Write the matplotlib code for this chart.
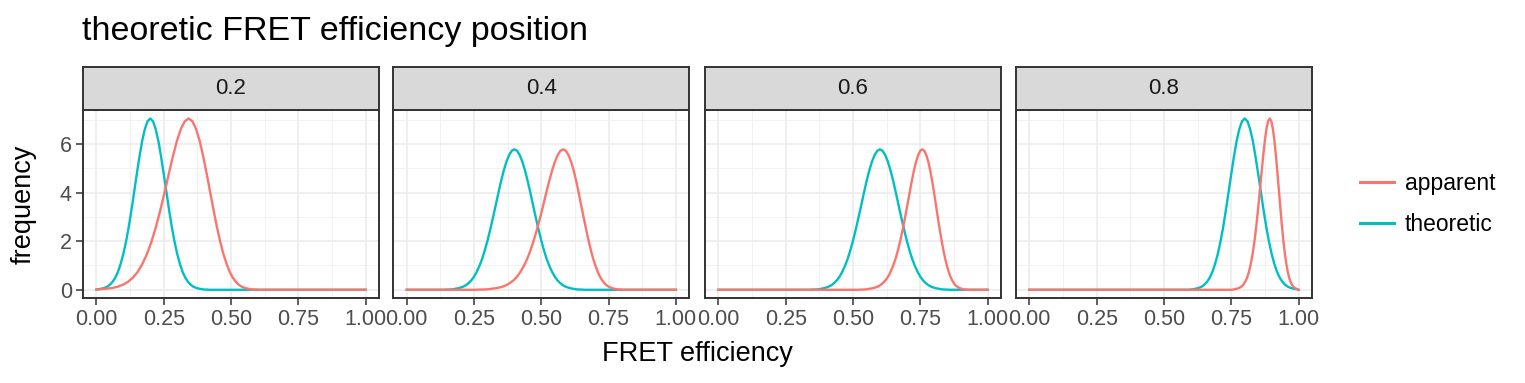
import matplotlib
matplotlib.use('Agg')
import matplotlib.pyplot as plt
from matplotlib.lines import Line2D

plt.rcParams['font.family'] = ['Liberation Sans', 'DejaVu Sans']

panel_labels = ['0.2', '0.4', '0.6', '0.8']
series_labels = ['apparent', 'theoretic']

theoretic_x = [0.00, 0.01, 0.02, 0.03, 0.04, 0.05, 0.06, 0.07, 0.08, 0.09,
               0.10, 0.11, 0.12, 0.13, 0.14, 0.15, 0.16, 0.17, 0.18, 0.19,
               0.20, 0.21, 0.22, 0.23, 0.24, 0.25, 0.26, 0.27, 0.28, 0.29,
               0.30, 0.31, 0.32, 0.33, 0.34, 0.35, 0.36, 0.37, 0.38, 0.39,
               0.40, 0.41, 0.42, 0.43, 0.44, 0.45, 0.46, 0.47, 0.48, 0.49,
               0.50, 0.51, 0.52, 0.53, 0.54, 0.55, 0.56, 0.57, 0.58, 0.59,
               0.60, 0.61, 0.62, 0.63, 0.64, 0.65, 0.66, 0.67, 0.68, 0.69,
               0.70, 0.71, 0.72, 0.73, 0.74, 0.75, 0.76, 0.77, 0.78, 0.79,
               0.80, 0.81, 0.82, 0.83, 0.84, 0.85, 0.86, 0.87, 0.88, 0.89,
               0.90, 0.91, 0.92, 0.93, 0.94, 0.95, 0.96, 0.97, 0.98, 0.99,
               1.00]

# same points as theoretic_x, at their apparent position
apparent_x = [0.0000, 0.0206, 0.0408, 0.0605, 0.0799, 0.0988, 0.1174, 0.1356, 0.1534, 0.1708,
              0.1880, 0.2048, 0.2212, 0.2374, 0.2533, 0.2688, 0.2841, 0.2991, 0.3138, 0.3283,
              0.3425, 0.3564, 0.3701, 0.3836, 0.3968, 0.4098, 0.4226, 0.4352, 0.4476, 0.4597,
              0.4717, 0.4835, 0.4951, 0.5065, 0.5177, 0.5287, 0.5396, 0.5503, 0.5608, 0.5712,
              0.5814, 0.5915, 0.6014, 0.6111, 0.6208, 0.6303, 0.6396, 0.6488, 0.6579, 0.6669,
              0.6757, 0.6844, 0.6930, 0.7014, 0.7098, 0.7180, 0.7261, 0.7342, 0.7421, 0.7499,
              0.7576, 0.7652, 0.7727, 0.7801, 0.7874, 0.7946, 0.8018, 0.8088, 0.8157, 0.8226,
              0.8294, 0.8361, 0.8427, 0.8492, 0.8557, 0.8621, 0.8684, 0.8746, 0.8808, 0.8868,
              0.8929, 0.8988, 0.9047, 0.9105, 0.9162, 0.9219, 0.9275, 0.9331, 0.9386, 0.9440,
              0.9494, 0.9547, 0.9599, 0.9651, 0.9703, 0.9754, 0.9804, 0.9854, 0.9903, 0.9952,
              1.0000]

freq_02 = [0.01, 0.03, 0.05, 0.08, 0.13, 0.21, 0.33, 0.50, 0.74, 1.07,
           1.48, 1.99, 2.59, 3.28, 4.02, 4.77, 5.49, 6.13, 6.62, 6.94,
           7.05, 6.94, 6.62, 6.13, 5.49, 4.77, 4.02, 3.28, 2.59, 1.99,
           1.48, 1.07, 0.74, 0.50, 0.33, 0.21, 0.13, 0.08, 0.05, 0.03,
           0.01, 0.01, 0, 0, 0, 0, 0, 0, 0, 0,
           0, 0, 0, 0, 0, 0, 0, 0, 0, 0,
           0, 0, 0, 0, 0, 0, 0, 0, 0, 0,
           0, 0, 0, 0, 0, 0, 0, 0, 0, 0,
           0, 0, 0, 0, 0, 0, 0, 0, 0, 0,
           0, 0, 0, 0, 0, 0, 0, 0, 0, 0,
           0]

freq_04 = [0, 0, 0, 0, 0, 0, 0, 0, 0, 0,
           0, 0, 0, 0, 0, 0.01, 0.01, 0.02, 0.04, 0.06,
           0.09, 0.13, 0.19, 0.28, 0.39, 0.54, 0.74, 0.98, 1.27, 1.62,
           2.02, 2.47, 2.95, 3.45, 3.96, 4.45, 4.89, 5.26, 5.54, 5.72,
           5.78, 5.72, 5.54, 5.26, 4.89, 4.45, 3.96, 3.45, 2.95, 2.47,
           2.02, 1.62, 1.27, 0.98, 0.74, 0.54, 0.39, 0.28, 0.19, 0.13,
           0.09, 0.06, 0.04, 0.02, 0.01, 0.01, 0, 0, 0, 0,
           0, 0, 0, 0, 0, 0, 0, 0, 0, 0,
           0, 0, 0, 0, 0, 0, 0, 0, 0, 0,
           0, 0, 0, 0, 0, 0, 0, 0, 0, 0,
           0]

freq_06 = [0, 0, 0, 0, 0, 0, 0, 0, 0, 0,
           0, 0, 0, 0, 0, 0, 0, 0, 0, 0,
           0, 0, 0, 0, 0, 0, 0, 0, 0, 0,
           0, 0, 0, 0, 0, 0.01, 0.01, 0.02, 0.04, 0.06,
           0.09, 0.13, 0.19, 0.28, 0.39, 0.54, 0.74, 0.98, 1.27, 1.62,
           2.02, 2.47, 2.95, 3.45, 3.96, 4.45, 4.89, 5.26, 5.54, 5.72,
           5.78, 5.72, 5.54, 5.26, 4.89, 4.45, 3.96, 3.45, 2.95, 2.47,
           2.02, 1.62, 1.27, 0.98, 0.74, 0.54, 0.39, 0.28, 0.19, 0.13,
           0.09, 0.06, 0.04, 0.02, 0.01, 0.01, 0, 0, 0, 0,
           0, 0, 0, 0, 0, 0, 0, 0, 0, 0,
           0]

freq_08 = [0, 0, 0, 0, 0, 0, 0, 0, 0, 0,
           0, 0, 0, 0, 0, 0, 0, 0, 0, 0,
           0, 0, 0, 0, 0, 0, 0, 0, 0, 0,
           0, 0, 0, 0, 0, 0, 0, 0, 0, 0,
           0, 0, 0, 0, 0, 0, 0, 0, 0, 0,
           0, 0, 0, 0, 0, 0, 0, 0, 0, 0,
           0.01, 0.03, 0.05, 0.08, 0.13, 0.21, 0.33, 0.50, 0.74, 1.07,
           1.48, 1.99, 2.59, 3.28, 4.02, 4.77, 5.49, 6.13, 6.62, 6.94,
           7.05, 6.94, 6.62, 6.13, 5.49, 4.77, 4.02, 3.28, 2.59, 1.99,
           1.48, 1.07, 0.74, 0.50, 0.33, 0.21, 0.13, 0.08, 0.05, 0.03,
           0]

frequencies = [freq_02, freq_04, freq_06, freq_08]

x_ticks = [0, 0.25, 0.5, 0.75, 1.0]
x_tick_labels = ['0.00', '0.25', '0.50', '0.75', '1.00']
y_ticks = [0, 2, 4, 6]

RED = '#F8766D'
CYAN = '#00BFC4'
DARK = '#333333'

W, H = 1525, 383
fig = plt.figure(figsize=(W / 100, H / 100), dpi=100)

lefts = [83, 393.3, 705, 1016]
pw = 296
top, bottom, strip_top = 110, 298.3, 67.3

for i, left in enumerate(lefts):
    ax = fig.add_axes([left / W, 1 - bottom / H, pw / W, (bottom - top) / H])
    ax.set_xlim(-0.05, 1.05)
    ax.set_ylim(-0.35, 7.40)
    ax.set_xticks(x_ticks)
    ax.set_xticklabels(x_tick_labels)
    ax.set_xticks([0.125, 0.375, 0.625, 0.875], minor=True)
    ax.set_yticks(y_ticks)
    ax.set_yticks([1, 3, 5, 7], minor=True)
    ax.set_axisbelow(True)
    ax.grid(which='major', color='#EBEBEB', lw=1.1)
    ax.grid(which='minor', color='#F0F0F0', lw=0.6)

    ax.plot(theoretic_x, frequencies[i], color=CYAN, lw=1.7, solid_joinstyle='round')
    ax.plot(apparent_x, frequencies[i], color=RED, lw=1.7, solid_joinstyle='round')

    for s in ax.spines.values():
        s.set_color(DARK)
        s.set_linewidth(1.4)
    ax.tick_params(which='major', length=5, width=1.1, color=DARK,
                   labelcolor='#4D4D4D', labelsize=15.5, pad=3)
    ax.tick_params(which='minor', length=0)
    if i > 0:
        ax.tick_params(axis='y', which='both', left=False, labelleft=False)

    sax = fig.add_axes([left / W, 1 - top / H, pw / W, (top - strip_top) / H])
    sax.set_facecolor('#D9D9D9')
    sax.set_xticks([])
    sax.set_yticks([])
    for s in sax.spines.values():
        s.set_color(DARK)
        s.set_linewidth(1.4)
    sax.text(0.5, 0.5, panel_labels[i], ha='center', va='center',
             fontsize=16, color='#1A1A1A', transform=sax.transAxes)

fig.text(82 / W, 1 - 40 / H, 'theoretic FRET efficiency position',
         fontsize=24.5, va='baseline', ha='left')
fig.text(24 / W, 1 - 204 / H, 'frequency', rotation=90,
         fontsize=19.5, va='center', ha='center')
fig.text(697.5 / W, 1 - 354 / H, 'FRET efficiency',
         fontsize=19.5, va='center', ha='center')

handles = [Line2D([], [], color=RED, lw=2.2), Line2D([], [], color=CYAN, lw=2.2)]
fig.legend(handles, series_labels, loc='center left',
           bbox_to_anchor=(1360 / W, 1 - 204 / H), frameon=False,
           fontsize=16.5, handlelength=1.5, handletextpad=0.45,
           labelspacing=0.75, borderpad=0, borderaxespad=0)

fig.savefig('out.png', dpi=100)
